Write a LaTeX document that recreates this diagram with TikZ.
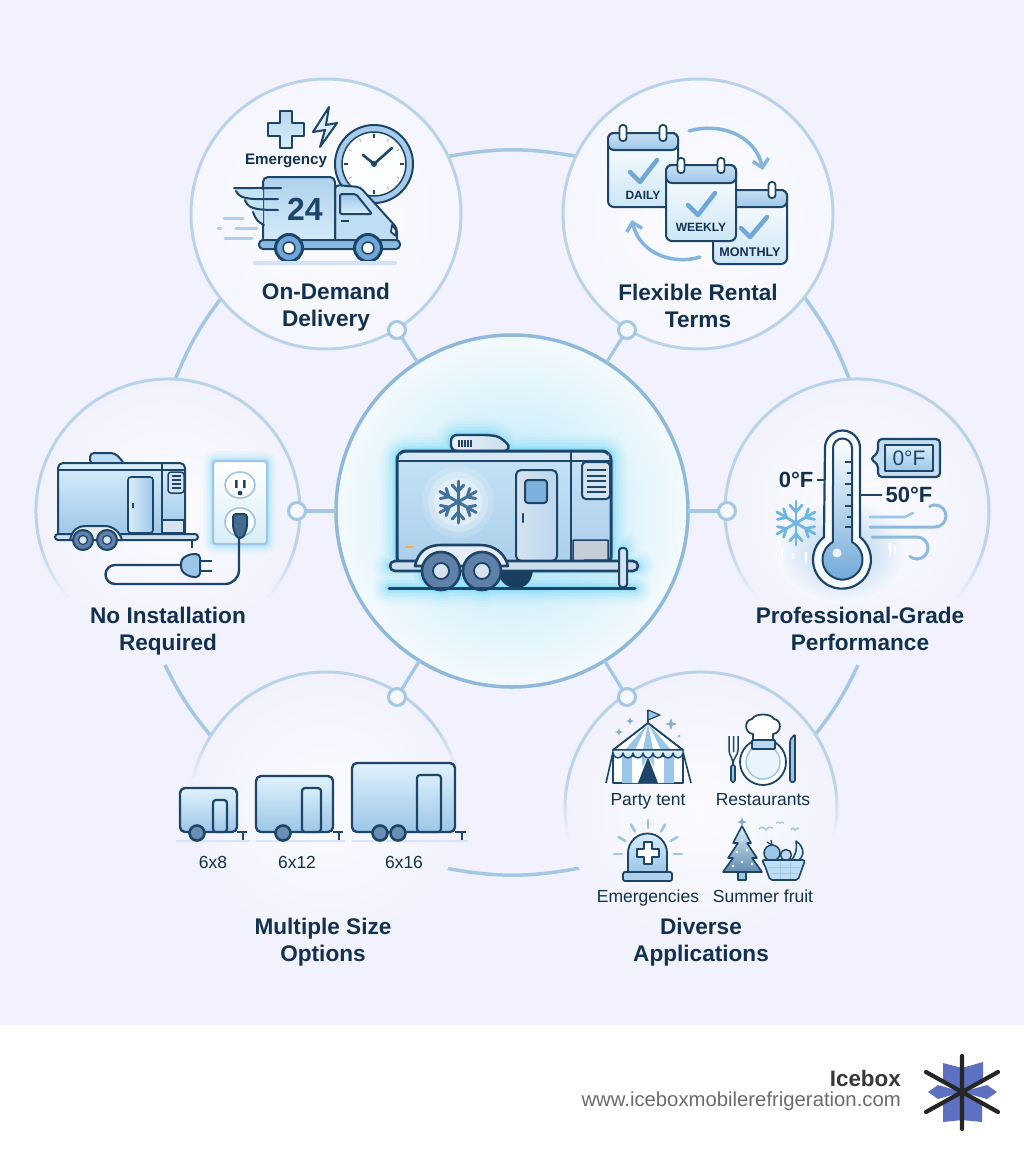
\documentclass[tikz,border=0pt]{standalone}
\usepackage{fontspec}
\setmainfont{Liberation Sans}
\usetikzlibrary{arrows.meta,calc}
\definecolor{bgc}{HTML}{F1F2FD}
\definecolor{ink}{HTML}{1D4569}
\definecolor{txt}{HTML}{12304F}
\definecolor{ringc}{HTML}{A4C8E4}
\definecolor{edgec}{HTML}{B9D3EA}
\definecolor{cedge}{HTML}{8FB9DB}
\definecolor{lite}{HTML}{D8EEFA}
\definecolor{midb}{HTML}{9CC6E8}
\definecolor{glowc}{HTML}{6FD8F8}
\definecolor{chk}{HTML}{6FA8D8}
\definecolor{hubc}{HTML}{D6E2EE}
\definecolor{whl}{HTML}{5F80A8}
\definecolor{logob}{HTML}{5D70C2}
\tikzset{
  ol/.style={draw=ink,line width=#1,line join=round},
  ol/.default=2,
  disc/.style={circle,inner sep=0pt,outer sep=0pt,minimum size=#1},
  lab/.style={font=\fontsize{22.6}{27}\selectfont\bfseries,text=txt,align=center,inner sep=0pt},
  sublab/.style={font=\fontsize{17.5}{20}\selectfont,text=txt,inner sep=0pt,anchor=base},
  caplab/.style={font=\fontsize{12}{14}\selectfont\bfseries,text=txt,inner sep=0pt},
  dotnode/.style={circle,draw=ringc,line width=3,fill=bgc!60!white,inner sep=0pt,outer sep=0pt,minimum size=17pt},
  ringline/.style={draw=ringc,line width=3.5},
  conn/.style={draw=ringc,line width=3.2},
}
\newcommand{\fadearc}[6]{%
  \draw[edgec,line width=3] ([shift={(#1,#2)}]#4+#6:#3) arc[start angle=#4+#6,end angle=#5-#6,radius=#3];
  \foreach \i in {0,...,7}{
    \pgfmathsetmacro{\aa}{#4+\i*#6/8}\pgfmathsetmacro{\bb}{#4+(\i+1)*#6/8}
    \pgfmathsetmacro{\cc}{#5-\i*#6/8}\pgfmathsetmacro{\dd}{#5-(\i+1)*#6/8}
    \pgfmathsetmacro{\oo}{(\i+.5)/8}
    \draw[edgec,line width=3,opacity=\oo] ([shift={(#1,#2)}]\aa:#3) arc[start angle=\aa,end angle=\bb,radius=#3];
    \draw[edgec,line width=3,opacity=\oo] ([shift={(#1,#2)}]\cc:#3) arc[start angle=\cc,end angle=\dd,radius=#3];
  }}
\newcommand{\snowf}[5]{%
  \begin{scope}[shift={(#1,#2)}]
  \foreach \a in {30,90,...,330}{
    \draw[#4,line width=#5,line cap=round] (0,0) -- (\a:#3);
    \draw[#4,line width=#5,line cap=round] (\a:0.5*#3) -- (\a+19:0.86*#3);
    \draw[#4,line width=#5,line cap=round] (\a:0.5*#3) -- (\a-19:0.86*#3);
  }
  \end{scope}}
\newcommand{\calbx}[5]{%
  \path[ol=2,rounded corners=6,top color=white,bottom color=lite!80!midb] (#1,#2) rectangle (#3,#4);
  \path[ol=2,rounded corners=6,top color=midb!55!white,bottom color=midb] (#1,#5) -- (#1,#2) -- (#3,#2) -- (#3,#5) -- cycle;}
\newcommand{\calring}[3]{\draw[ol=1.8,fill=white,rounded corners=3] (#1-3.5,#2) rectangle (#1+3.5,#3);}
\newcommand{\gcheck}[6]{\draw[chk,line width=4.5,line cap=round,line join=round] (#1,#2) -- (#3,#4) -- (#5,#6);}
\newcommand{\spk}[3]{\fill[midb!80!ink] (#1,#2-#3) -- (#1+#3*.25,#2-#3*.25) -- (#1+#3,#2) -- (#1+#3*.25,#2+#3*.25) -- (#1,#2+#3) -- (#1-#3*.25,#2+#3*.25) -- (#1-#3,#2) -- (#1-#3*.25,#2-#3*.25) -- cycle;}
\newcommand{\tlr}[6]{%
  \draw[ink,line width=2.2] (#3,832) -- (#4,832) (#4-4,832) -- (#4-4,840);
  \path[ol=2.4,rounded corners=5,top color=lite!80!white,bottom color=midb] (#1,832) -- (#1,#2) -- (#3,#2) -- (#3,832) -- cycle;
  \path[ol=2.2,rounded corners=3,top color=lite,bottom color=midb] (#5,832) -- (#5,#2+12) -- (#6,#2+12) -- (#6,832) -- cycle;}
\begin{document}
\begin{tikzpicture}[x=1pt,y=-1pt]
\useasboundingbox (0,0) rectangle (1024,1154);
\fill[bgc] (0,0) rectangle (1024,1025);
\fill[white] (0,1025) rectangle (1024,1154);

% ---------- ring pieces
\coordinate (ta) at (445,157); \coordinate (tb) at (580,157);
\coordinate (ula) at (175,380); \coordinate (ulb) at (222,297);
\coordinate (ura) at (805,298); \coordinate (urb) at (850,381);
\coordinate (lla) at (165,665); \coordinate (llb) at (210,735);
\coordinate (lra) at (858,665); \coordinate (lrb) at (815,735);
\coordinate (ba) at (445,868); \coordinate (bb) at (580,868);
\draw[ringline] (ta) to[bend left=10.5] (tb);
\draw[ringline] (ula) to[bend left=7.6] (ulb);
\draw[ringline] (ura) to[bend left=7.6] (urb);
\draw[ringline] (lla) to[bend right=6.3] (llb);
\draw[ringline] (lra) to[bend left=6.3] (lrb);
\draw[ringline] (ba) to[bend right=10.5] (bb);

% ---------- discs
\node[disc=270pt,draw=edgec,line width=3,inner color=white!70!bgc,outer color=bgc!70!white] (demand) at (326,214) {};
\node[disc=270pt,draw=edgec,line width=3,inner color=white!70!bgc,outer color=bgc!70!white] (flex) at (698,214) {};
\node[disc=264pt,inner color=white!70!bgc,outer color=bgc] (noinst) at (168,511) {};
\node[disc=264pt,inner color=white!70!bgc,outer color=bgc] (prof) at (857,511) {};
\node[disc=272pt,inner color=white!70!bgc,outer color=bgc] (sizes) at (326,808) {};
\node[disc=272pt,inner color=white!70!bgc,outer color=bgc] (apps) at (701,808) {};
\fadearc{168}{511}{132}{139}{401}{26}
\fadearc{857}{511}{132}{139}{401}{26}
\fadearc{326}{808}{136}{190}{345}{22}
\fadearc{701}{808}{136}{168}{372}{22}
\node[disc=352pt,draw=cedge,line width=3.5,inner color=lite!70!glowc,outer color=lite!30!white] (hub) at (512,511) {};

% ---------- connectors
\node[dotnode] (d1) at (397,330) {};
\node[dotnode] (d2) at (627,330) {};
\node[dotnode] (d3) at (297,511) {};
\node[dotnode] (d4) at (727,511) {};
\node[dotnode] (d5) at (397,697) {};
\node[dotnode] (d6) at (627,697) {};
\foreach \n in {d1,d2,d3,d4,d5,d6}{\draw[conn] (hub) -- (\n);}

% ---------- central trailer
\foreach \w/\o in {34/.05,28/.07,22/.10,16/.14,10/.22,6/.35}{
 \draw[glowc,line width=\w,opacity=\o,line join=round,line cap=round,rounded corners=8]
   (397,561) -- (397,451) -- (611,451) -- (611,561) -- cycle
   (451,450) -- (451,435) -- (493,435) -- (510,450)
   (390,566) -- (638,566) (389,588) -- (635,588) (623,548) -- (623,587)
   (441,571) circle[radius=19] (482,571) circle[radius=19];
}
\path[ol=2.4,left color=hubc!50!white,right color=hubc!80!midb,rounded corners=6] (451,451) -- (451,435) -- (490,435) .. controls (501,437) and (508,444) .. (510,451) -- cycle;
\foreach \x in {459,462,465,468,471}{\draw[ink,line width=1.6] (\x,440) -- (\x,447);}
\path[ol=3,rounded corners=9,top color=lite!70!midb,bottom color=midb!85!white] (397,566) -- (397,451) -- (611,451) -- (611,566) -- cycle;
\fill[lite!50!hubc,rounded corners=8] (399,453) -- (609,453) -- (609,461) -- (399,461) -- cycle;
\draw[ink,line width=2] (397,461) -- (611,461);
\draw[ink,line width=2] (571,451) -- (571,561);
\fill[white,opacity=.15] (458,502) circle (36);
\fill[white,opacity=.25] (458,502) circle (30);
\fill[white,opacity=.35] (458,502) circle (24);
\snowf{458}{502}{21}{ink!55!chk}{3}
\path[ol=2,rounded corners=5,left color=hubc,right color=midb!70!white] (516,561) -- (516,470) -- (557,470) -- (557,561) -- cycle;
\path[ol=2,rounded corners=3,fill=chk!90!white] (525,480) rectangle (547,503);
\draw[ink,line width=2.2,line cap=round] (523,514) -- (523,522);
\path[ol=2,rounded corners=4,fill=hubc] (582,462) -- (582,499) -- (610,499) -- (610,462) -- cycle;
\foreach \y in {470,476,481,487,492}{\draw[ink,line width=1.8] (587,\y) -- (606,\y);}
\path[ol=1.5,fill=hubc!80!gray] (573,540) -- (608,540) -- (608,560) -- (585,560) -- (573,566) -- cycle;
\path[ol=2.6,rounded corners=5,fill=hubc!85!midb] (390,561) rectangle (638,571);
\fill[ink!90!black] (498,571) .. controls (500,584) and (509,588) .. (516,588) .. controls (524,588) and (531,584) .. (533,571) -- cycle;
\path[ol=2.6,fill=hubc!60!white] (415,566) .. controls (418,551) and (428,545) .. (441,545) -- (480,545) .. controls (494,545) and (505,553) .. (508,566) -- cycle;
\foreach \x in {441,482}{
  \draw[ol=2.6,fill=whl] (\x,571) circle (19);
  \draw[ol=1.8,fill=hubc] (\x,571) circle (8);
}
\path[ol=2,rounded corners=3,fill=hubc] (619,548) rectangle (627,587);
\draw[ink,line width=3,line cap=round] (389,588) -- (635,588);
\draw[orange!70!white,line width=2.5,line cap=round] (406,547) -- (413,547);

% ---------- On-Demand Delivery
\draw[ol=2,fill=midb!90!white] (374,164) circle (39);
\draw[ol=1.5,fill=white!90!lite] (374,164) circle (32);
\foreach \a in {0,90,180,270}{\draw[ink,line width=2] ([shift={(374,164)}]\a:26) -- ([shift={(374,164)}]\a:30);}
\foreach \a in {30,60,120,150,210,240,300,330}{\draw[ink!40!white,line width=1] ([shift={(374,164)}]\a:26) -- ([shift={(374,164)}]\a:29);}
\draw[ink,line width=2.6,line cap=round,line join=round] (363,155) -- (374,164) -- (392,148);
\fill[ink] (374,164) circle (3);
\path[ol=2,top color=midb!70!white,bottom color=lite] (280,111) -- (292,111) -- (292,122.5) -- (304,122.5) -- (304,136) -- (292,136) -- (292,148) -- (280,148) -- (280,136) -- (268,136) -- (268,122.5) -- (280,122.5) -- cycle;
\path[ol=2,fill=lite] (329,107) -- (313,132) -- (325,130) -- (320,147) -- (337,123) -- (326,125) -- cycle;
\node[font=\fontsize{15.2}{18}\selectfont\bfseries,text=txt,inner sep=0pt] (tEm) at (286,161) {Emergency};
% truck
\path[ol=2,rounded corners=4,fill=lite!60!midb] (335,248) -- (335,185) -- (360,187) -- (387,217) -- (397,228) -- (397,248) -- cycle;
\path[ol=2,rounded corners=5,top color=midb!80!white,bottom color=lite] (263,248) -- (263,177) -- (335,177) -- (335,248) -- cycle;
\path[ol=2,rounded corners=2,top color=midb,bottom color=lite] (340,194) -- (356,194) -- (372,214) -- (340,214) -- cycle;
\draw[ink,line width=1.8] (341,221) -- (349,221);
\draw[ol=1.8,fill=white] (392,225) -- (396,230) -- (396,236) -- (391,232) -- cycle;
\path[ol=2,rounded corners=4,fill=chk!80!white] (259,240) rectangle (400,249);
\fill[lite!70!midb] (234,188) -- (263,190) -- (263,225) -- cycle;
\draw[ink,line width=2,line cap=round] (234,188) -- (281,188) (236,191) .. controls (240,198) and (245,200) .. (278,199) (245,200) .. controls (248,208) and (253,210) .. (278,210) (253,212) .. controls (256,220) and (258,222) .. (264,225);
\foreach \x in {289,368}{
  \draw[ol=3,fill=chk] (\x,248) circle (13.5);
  \draw[ol=1.5,fill=white] (\x,248) circle (6);
}
\node[font=\fontsize{32}{36}\selectfont\bfseries,text=ink,inner sep=0pt] (t24) at (305,209) {24};
\draw[midb!80!white,line width=3,line cap=round] (224,218) -- (243,218) (218,228) -- (221,228) (236,228) -- (257,228) (225,238) -- (252,238);
\fill[midb!35!bgc,rounded corners=2] (253,261) rectangle (397,265);
\node[lab] (lDemand) at (326,307) {On-Demand\\Delivery};

% ---------- Flexible
\calbx{608}{133}{678}{207}{150}
\calring{623}{125}{141}\calring{663}{125}{141}
\gcheck{630}{172}{640}{182}{657}{160}
\node[caplab] (tDaily) at (643,195) {DAILY};
\calbx{713}{190}{787}{264}{207}
\calring{772}{182}{198}
\gcheck{741}{228}{750}{237}{767}{217}
\node[caplab,font=\fontsize{12.6}{14}\selectfont\bfseries] (tMonthly) at (750,252) {MONTHLY};
\calbx{666}{165}{736}{241}{183}
\calring{681}{158}{173}\calring{721}{158}{173}
\gcheck{688}{205}{698}{215}{715}{193}
\node[caplab] (tWeekly) at (701,227) {WEEKLY};
\draw[chk!85!white,line width=3.5,line cap=round,-{Straight Barb[length=8pt,width=16pt]}] (689,131) .. controls (720,122) and (755,135) .. (763,170);
\draw[chk!85!white,line width=3.5,line cap=round,-{Straight Barb[length=8pt,width=16pt]}] (700,257) .. controls (675,265) and (640,255) .. (632,220);
\node[lab] (lFlex) at (698,306) {Flexible Rental\\Terms};

% ---------- No Installation
\foreach \w/\o in {20/.07,14/.10,9/.15,5/.25}{
 \draw[glowc,line width=\w,opacity=\o,rounded corners=3] (213,461) rectangle (267,544);}
\path[draw=midb,line width=2,rounded corners=3,top color=white,bottom color=lite] (213,461) rectangle (267,544);
\draw[midb,line width=1.6,fill=white] (240,485) ellipse (15 and 13);
\fill[ink] (235,480) rectangle (237.5,488) (243,480) rectangle (245.5,488);
\fill[ink] (240,493) circle (2.4);
\draw[midb,line width=1.6,fill=white] (240,522) ellipse (15 and 14);
\path[ol=2,fill=ink!70!midb,rounded corners=3] (233,514) -- (247,514) -- (247,528) -- (243,538) -- (237,538) -- (233,528) -- cycle;
\draw[ink,line width=2.4] (239,538) -- (239,570) arc[start angle=0,end angle=90,radius=14] -- (115,584) arc[start angle=90,end angle=270,radius=9.5] -- (181,565);
\path[ol=2,fill=midb,rounded corners=4] (181,559) -- (190,554) -- (200,554) -- (200,577) -- (190,577) -- (181,571) -- cycle;
\draw[ink,line width=2.4] (200,561) -- (212,561) (200,571) -- (212,571);
\draw[ink,line width=2] (192,540) -- (192,548);
\path[ol=2,rounded corners=4,fill=lite!60!midb] (90,464) -- (90,453) -- (115,453) -- (125,464) -- cycle;
\path[ol=2,rounded corners=5,top color=lite,bottom color=midb] (58,537) -- (58,463) -- (185,463) -- (185,537) -- cycle;
\draw[ink,line width=1.6] (58,470) -- (185,470) (162,463) -- (162,533);
\path[ol=1.6,rounded corners=3,left color=lite,right color=midb] (128,533) -- (128,477) -- (153,477) -- (153,533) -- cycle;
\draw[ink,line width=1.4] (133,503) -- (133,508);
\path[ol=1.5,rounded corners=3,fill=hubc] (168,472) -- (168,493) -- (184,493) -- (184,472) -- cycle;
\foreach \y in {476,480,484,488}{\draw[ink,line width=1.2] (172,\y) -- (181,\y);}
\path[ol=1.5,fill=hubc] (162,520) -- (184,520) -- (184,533) -- (162,533) -- cycle;
\path[ol=2,rounded corners=3,fill=hubc!85!midb] (55,534) rectangle (198,540);
\path[ol=2,fill=hubc!60!white] (70,540) .. controls (72,530) and (78,526) .. (85,526) -- (105,526) .. controls (113,526) and (120,532) .. (122,540) -- cycle;
\foreach \x in {83,107}{
  \draw[ol=2,fill=whl] (\x,540) circle (10);
  \draw[ol=1.2,fill=hubc] (\x,540) circle (4.5);
}
\node[lab] (lNoInst) at (168,631) {No Installation\\Required};

% ---------- Professional
\shade[inner color=midb!80!white,outer color=white!50!bgc] (842,552) ellipse (66 and 52);
\path[ol=2.2,fill=white!80!lite] (825,448) arc[start angle=180,end angle=360,radius=17.5] -- (860,537) arc[start angle=-51.6,end angle=231.6,radius=29] -- cycle;
\path[ol=2,top color=white,bottom color=chk] (833,448) arc[start angle=180,end angle=360,radius=9.5] -- (852,542) arc[start angle=-61.6,end angle=241.6,radius=20] -- cycle;
\fill[white,opacity=.85] (837,553) circle (4.5);
\foreach \y/\l in {462/7,473/5,484/7,495/5,506/7,517/5,527/7}{\draw[ink,line width=1.6] (852,\y) -- ++(-\l,0);}
\node[font=\fontsize{22}{26}\selectfont\bfseries,text=txt,inner sep=0pt] (t0) at (796,480) {0°F};
\node[font=\fontsize{22}{26}\selectfont\bfseries,text=txt,inner sep=0pt] (t50) at (909,495) {50°F};
\draw[ink,line width=1.8] (817,480) -- (825,480);
\draw[ink,line width=1.8] (860,495) -- (882,495);
\path[ol=2.2,fill=midb!60!white,rounded corners=4] (878,439) -- (940,439) -- (940,477) -- (878,477) -- (878,464) -- (870,459) -- (878,453) -- cycle;
\path[ol=1.6,top color=lite,bottom color=midb] (885,445) rectangle (933,471);
\node[font=\fontsize{21}{24}\selectfont,text=ink,inner sep=0pt] (tb0) at (909,458) {0°F};
\snowf{796}{523}{22}{chk!70!glowc}{2.8}
\draw[midb,line width=2.6,line cap=round] (870,517) -- (905,517) -- (913,513);
\draw[chk!80!white,line width=3,line cap=round] (870,527) -- (935,527) arc[start angle=90,end angle=-120,radius=11];
\draw[chk!80!white,line width=3,line cap=round] (872,537) -- (917,537) arc[start angle=-90,end angle=130,radius=11];
\foreach \x/\t/\b in {782/548/564,793/553/560,806/552/566,890/543/560,895/546/556,935/540/550}{
  \fill[white] (\x-1.5,\t) -- (\x+1.5,\t) -- (\x,\b) -- cycle;}
\node[lab] (lProf) at (860,629) {Professional-Grade\\Performance};

% ---------- Multiple sizes
\fill[midb!30!bgc] (176,840) rectangle (250,842) (256,840) rectangle (345,842) (352,840) rectangle (468,842);
\tlr{180}{788}{237}{247}{213}{227}
\tlr{256}{776}{333}{343}{302}{321}
\tlr{352}{763}{455}{466}{417}{441}
\foreach \x in {197,283,380,398}{\draw[ol=2.6,fill=whl!80!midb] (\x,833) circle (7.5);}
\node[sublab] (s68) at (213,868) {6x8};
\node[sublab] (s612) at (297,868) {6x12};
\node[sublab] (s616) at (404,868) {6x16};
\node[lab] (lSizes) at (323,942) {Multiple Size\\Options};

% ---------- Diverse: tent
\draw[ink,line width=1.6] (606,783) -- (613,752) (691,783) -- (683,752);
\path[ol=1.6,fill=white] (613,756) rectangle (683,783);
\fill[midb] (622,756) rectangle (632,783) (642,756) rectangle (654,783) (664,756) rectangle (674,783);
\path[ol=1.6,fill=white] (648,723) -- (613,750) -- (683,750) -- cycle;
\fill[midb] (648,723) -- (625,750) -- (635,750) -- cycle (648,723) -- (643,750) -- (653,750) -- cycle (648,723) -- (661,750) -- (671,750) -- cycle;
\draw[ol=1.6] (648,723) -- (613,750) -- (683,750) -- cycle;
\path[ol=1.4,fill=lite] (613,750) -- (683,750) -- (683,753) arc[start angle=0,end angle=180,radius=5] arc[start angle=0,end angle=180,radius=5] arc[start angle=0,end angle=180,radius=5] arc[start angle=0,end angle=180,radius=5] arc[start angle=0,end angle=180,radius=5] arc[start angle=0,end angle=180,radius=5] arc[start angle=0,end angle=180,radius=5] -- cycle;
\fill[white] (648,757) -- (632,783) -- (664,783) -- cycle;
\fill[ink] (648,757) -- (638,783) -- (658,783) -- cycle;
\draw[ink,line width=1.4] (648,723) -- (648,710);
\path[ol=1.2,fill=midb] (648,710) -- (660,715) -- (648,720) -- cycle;
\spk{630}{721}{4}\spk{619}{732}{4}\spk{671}{724}{6}\spk{679}{736}{2}
\node[sublab] (sParty) at (648,805) {Party tent};
% restaurant
\path[ol=1.8,fill=white] (763,762) circle (23);
\path[draw=midb,line width=1.4,fill=lite!60!white] (763,762) circle (17);
\path[ol=1.8,fill=white] (753,734) .. controls (744,733) and (744,720) .. (752,719) .. controls (755,713) and (771,713) .. (774,719) .. controls (782,720) and (782,733) .. (773,734) -- (773,742) -- (753,742) -- cycle;
\path[ol=1.8,fill=midb!70!white,rounded corners=1] (752,740) rectangle (775,749);
\path[ol=1.6,fill=midb,rounded corners=1.5] (731,765) rectangle (735,782);
\draw[ink,line width=1.5,line join=round] (729,736) -- (729,750) .. controls (729,756) and (733,757) .. (733,765) .. controls (733,757) and (738,756) .. (738,750) -- (738,736) (733.5,736) -- (733.5,752);
\path[ol=1.6,fill=midb,rounded corners=1.5] (790,782) -- (790,740) -- (795,734) -- (795,782) -- cycle;
\node[sublab] (sRest) at (763,805) {Restaurants};
% emergencies
\path[ol=1.8,top color=lite,bottom color=midb] (628,872) -- (628,853) arc[start angle=180,end angle=360,radius=19.5] -- (667,872) -- cycle;
\path[ol=1.6,fill=white] (644,842) -- (652,842) -- (652,849) -- (659,849) -- (659,857) -- (652,857) -- (652,864) -- (644,864) -- (644,857) -- (637,857) -- (637,849) -- (644,849) -- cycle;
\path[ol=1.8,fill=midb!80!white,rounded corners=2] (623,872) rectangle (672,881);
\foreach \a in {180,210,240,270,300,330,360}{\draw[midb,line width=2.6,line cap=round] ([shift={(648,854)}]\a:26) -- ([shift={(648,854)}]\a:34);}
\node[sublab] (sEmg) at (648,902) {Emergencies};
% tree
\path[ol=1.5,fill=midb] (738,872) rectangle (746,880);
\path[ol=1.6,top color=lite,bottom color=ink!45!midb,line join=round] (742,826) -- (751,843) -- (747,843) -- (757,858) -- (752,858) -- (762,872) -- (723,872) -- (733,858) -- (728,858) -- (738,843) -- (733,843) -- cycle;
\spk{742}{822}{5}
\fill[white] (742,840) circle (1.3) (737,852) circle (1.3) (747,850) circle (1.3) (742,862) circle (1.3) (752,864) circle (1.3) (733,866) circle (1.3);
% fruit
\path[ol=1.5,fill=midb] (772,853) circle (8);
\path[ol=1.5,fill=midb!70!white] (786,855) circle (5.5);
\path[ol=1.5,fill=lite] (796,841) .. controls (806,848) and (804,858) .. (797,861) -- (790,861) .. controls (796,856) and (797,850) .. (796,841) -- cycle;
\draw[ink,line width=1.2] (772,845) -- (771,840) (772,845) -- (767,842);
\path[ol=1.6,fill=lite!60!midb,rounded corners=2] (762,860) -- (805,860) -- (803,866) -- (798,880) -- (770,880) -- (765,866) -- cycle;
\draw[midb,line width=1] (768,867) -- (800,867) (771,873) -- (797,873) (780,862) -- (780,879) (790,862) -- (790,879);
\draw[midb,line width=1.4] (759,829) .. controls (761,826) and (764,827) .. (766,830) .. controls (768,827) and (771,826) .. (773,828) (776,823) .. controls (777,822) and (778,822) .. (780,823) .. controls (781,822) and (782,822) .. (784,823) (791,830) .. controls (792,827) and (794,828) .. (795,830) .. controls (796,828) and (798,827) .. (799,829);
\node[sublab] (sFruit) at (763,902) {Summer fruit};
\node[lab] (lApps) at (701,942) {Diverse\\Applications};

% ---------- footer
\node[anchor=east,font=\fontsize{22.4}{26}\selectfont\bfseries,text=black!78,inner sep=0pt] (brand) at (901,1078) {Icebox};
\node[anchor=east,font=\fontsize{20.3}{24}\selectfont,text=black!58,inner sep=0pt] (url) at (901,1101) {www.iceboxmobilerefrigeration.com};
\fill[logob] (943,1063) -- (962,1068) -- (983,1062) -- (983,1083) -- (962,1092) -- (943,1082) -- cycle;
\fill[logob] (943,1102) -- (962,1092) -- (982,1102) -- (982,1122) -- (962,1120) -- (943,1122) -- cycle;
\fill[logob] (928,1092) -- (938,1085) -- (962,1092) -- (938,1099) -- cycle;
\fill[logob] (962,1092) -- (987,1085) -- (997,1092) -- (987,1099) -- cycle;
\draw[black!85,line width=4.2,line cap=round] (962,1056) -- (962,1129) (926,1072) -- (998,1112) (926,1112) -- (998,1072);
\end{tikzpicture}
\end{document}
